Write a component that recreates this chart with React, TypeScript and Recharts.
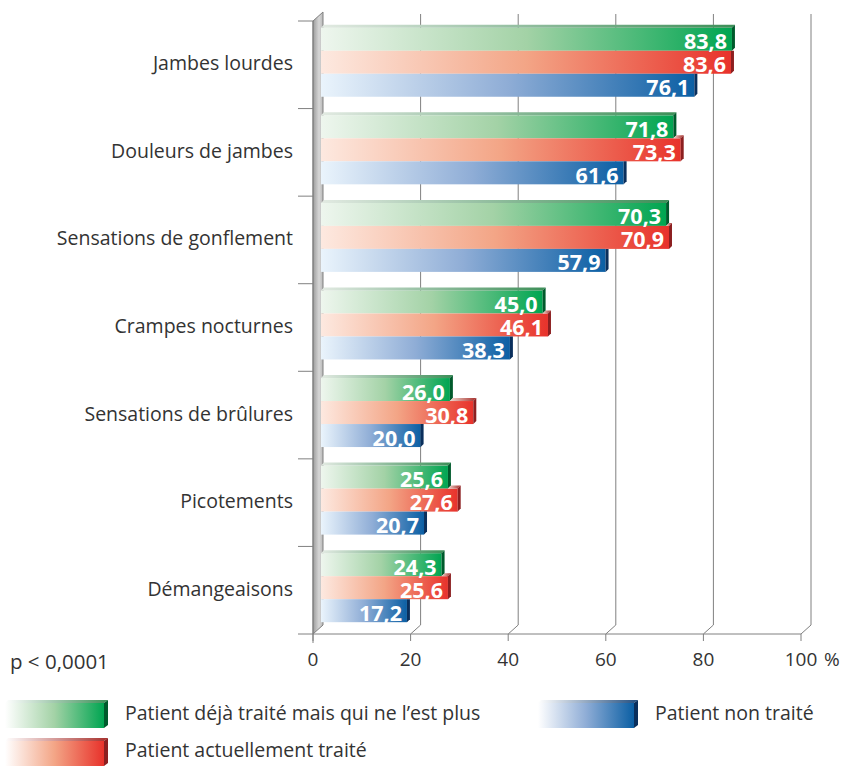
import React from 'react';
import { BarChart, Bar, XAxis, YAxis, CartesianGrid, LabelList } from 'recharts';

// categories and series (values in %)
const categories = [
  'Jambes lourdes',
  'Douleurs de jambes',
  'Sensations de gonflement',
  'Crampes nocturnes',
  'Sensations de brûlures',
  'Picotements',
  'Démangeaisons',
];
const dejaTraite = [83.8, 71.8, 70.3, 45.0, 26.0, 25.6, 24.3];
const actuellementTraite = [83.6, 73.3, 70.9, 46.1, 30.8, 27.6, 25.6];
const nonTraite = [76.1, 61.6, 57.9, 38.3, 20.0, 20.7, 17.2];
const xTicks = [0, 20, 40, 60, 80, 100];

const data = categories.map((name, i) => ({
  name,
  deja: dejaTraite[i],
  actuel: actuellementTraite[i],
  non: nonTraite[i],
}));

const FONT = '"Open Sans", sans-serif';
const TEXT = '#333';
const LINE = '#808080';
const DX = 10; // depth of the back wall
const DY = 9;
const D = 3; // depth of a bar
const BAND = 613 / 7;

const SERIES = [
  { key: 'deja', above: null, light: '#eef6ee', mid: '#a3d2a6', dark: '#00a551', side: '#005a2c', topL: '#e2eae2', topR: '#3d8f58' },
  { key: 'actuel', above: 'deja', light: '#fde9e0', mid: '#f3a586', dark: '#e8322b', side: '#8c1f20', topL: '#efd8d0', topR: '#a8302c' },
  { key: 'non', above: 'actuel', light: '#eaf4fc', mid: '#8fadd6', dark: '#0b5fa4', side: '#0a2f5c', topL: '#d8e3ee', topR: '#244f80' },
];

const fmt = (v: number) => v.toFixed(1).replace('.', ',');

const Bar3D = (props: any) => {
  const { x, y, width, height, payload, s } = props;
  const v = payload[s.key];
  const scale = width / v;
  const left = x + 8;
  const right = x + width + DX;
  const ty = y - 2;
  const h = height;
  const aboveEnd = s.above ? x + DX + payload[s.above] * scale : null;
  let topFace = null;
  if (aboveEnd === null) {
    topFace = `${left},${ty} ${left + D},${ty - D} ${right + D},${ty - D} ${right},${ty}`;
  } else if (aboveEnd < right) {
    const sx = Math.max(left, aboveEnd);
    topFace = `${sx},${ty} ${sx + D},${ty - D} ${right + D},${ty - D} ${right},${ty}`;
  }
  const sideFace =
    aboveEnd !== null && aboveEnd >= right
      ? `${right},${ty} ${right + D},${ty} ${right + D},${ty + h - D} ${right},${ty + h}`
      : `${right},${ty} ${right + D},${ty - D} ${right + D},${ty + h - D} ${right},${ty + h}`;
  return (
    <g>
      <rect x={left} y={ty} width={right - left} height={h} fill={`url(#g-${s.key})`} />
      {topFace && <polygon points={topFace} fill={`url(#t-${s.key})`} />}
      <polygon points={sideFace} fill={s.side} />
    </g>
  );
};

const ValueLabel = (props: any) => {
  const { x, y, width, height, value } = props;
  return (
    <text
      x={x + width + DX - 5}
      y={y - 2 + height / 2 + 1}
      textAnchor="end"
      dominantBaseline="central"
      fill="#fff"
      fontWeight="bold"
      fontSize={22}
      fontFamily={FONT}
      textLength={43}
      lengthAdjust="spacingAndGlyphs"
    >
      {fmt(value)}
    </text>
  );
};

const CategoryTick = (props: any) => {
  const { x, y, payload, index } = props;
  const axisX = x + 20;
  return (
    <g>
      <text x={x} y={y - 2} textAnchor="end" dominantBaseline="central" fontSize={19.5} fill={TEXT} fontFamily={FONT}>
        {payload.value}
      </text>
      <line x1={axisX - 15} x2={axisX} y1={y - BAND / 2} y2={y - BAND / 2} stroke={LINE} />
      {index === categories.length - 1 && (
        <>
          <line x1={axisX - 15} x2={axisX} y1={y + BAND / 2} y2={y + BAND / 2} stroke={LINE} />
          <line x1={axisX} x2={axisX} y1={y + BAND / 2} y2={y + BAND / 2 + 9} stroke={LINE} />
        </>
      )}
    </g>
  );
};

const PercentTick = (props: any) => {
  const { x, y, payload } = props;
  return (
    <g>
      <text x={x} y={y} dy="0.71em" textAnchor="middle" fontSize={19} fill={TEXT} fontFamily={FONT}>
        {payload.value}
      </text>
      {payload.value === 100 && (
        <text x={x + 23} y={y} dy="0.71em" textAnchor="start" fontSize={19} fill={TEXT} fontFamily={FONT}>
          %
        </text>
      )}
    </g>
  );
};

const BackGridLine = (props: any) => {
  const { x1, y1, y2, index } = props;
  if (index === 0) {
    return (
      <g key={`wall-${index}`}>
        <polygon
          points={`${x1},${y1} ${x1 + DX},${y1 - DY} ${x1 + DX},${y2 - DY} ${x1},${y2}`}
          fill="url(#wall)"
          stroke={LINE}
        />
      </g>
    );
  }
  return (
    <path
      key={`grid-${index}`}
      d={`M${x1 + DX},${y1 - DY + 2} L${x1 + DX},${y2 - DY} L${x1},${y2}`}
      stroke={LINE}
      fill="none"
    />
  );
};

const Swatch = ({ s, w }: { s: any; w: number }) => (
  <svg width={w} height={28}>
    <defs>
      <linearGradient id={`lg-${s.key}`} x1="0" y1="0" x2="1" y2="0">
        <stop offset="0%" stopColor="#fff" />
        <stop offset="50%" stopColor={s.mid} />
        <stop offset="100%" stopColor={s.dark} />
      </linearGradient>
      <linearGradient id={`lt-${s.key}`} x1="0" y1="0" x2="1" y2="0">
        <stop offset="0%" stopColor="#fff" />
        <stop offset="100%" stopColor={s.topR} />
      </linearGradient>
    </defs>
    <rect x={0} y={3} width={w - 4} height={25} fill={`url(#lg-${s.key})`} />
    <polygon points={`0,3 3,0 ${w},0 ${w - 4},3`} fill={`url(#lt-${s.key})`} />
    <polygon points={`${w - 4},3 ${w},0 ${w},25 ${w - 4},28`} fill={s.side} />
  </svg>
);

const legendText: React.CSSProperties = {
  position: 'absolute',
  fontFamily: FONT,
  fontSize: 19.5,
  color: TEXT,
  lineHeight: '20px',
  whiteSpace: 'nowrap',
};

export default function App() {
  return (
    <div style={{ position: 'relative', width: 846, height: 766, background: '#fff', overflow: 'hidden' }}>
      <style>{'body{margin:0}'}</style>
      <BarChart
        width={846}
        height={766}
        data={data}
        layout="vertical"
        margin={{ top: 21, right: 45, left: 0, bottom: 92 }}
        barCategoryGap="10%"
        barGap={0}
      >
        <defs>
          {SERIES.map((s) => (
            <React.Fragment key={s.key}>
              <linearGradient id={`g-${s.key}`} x1="0" y1="0" x2="1" y2="0">
                <stop offset="0%" stopColor={s.light} />
                <stop offset="50%" stopColor={s.mid} />
                <stop offset="100%" stopColor={s.dark} />
              </linearGradient>
              <linearGradient id={`t-${s.key}`} x1="0" y1="0" x2="1" y2="0">
                <stop offset="0%" stopColor={s.topL} />
                <stop offset="100%" stopColor={s.topR} />
              </linearGradient>
            </React.Fragment>
          ))}
          <linearGradient id="wall" x1="0" y1="0" x2="1" y2="0">
            <stop offset="0%" stopColor="#9c9c9c" />
            <stop offset="60%" stopColor="#d6d6d6" />
            <stop offset="100%" stopColor="#b8b8b8" />
          </linearGradient>
        </defs>
        <CartesianGrid horizontal={false} vertical={BackGridLine} />
        <XAxis
          type="number"
          domain={[0, 100]}
          ticks={xTicks}
          height={40}
          tickSize={7}
          tickMargin={12}
          axisLine={{ stroke: LINE }}
          tickLine={{ stroke: LINE }}
          tick={<PercentTick />}
        />
        <YAxis
          type="category"
          dataKey="name"
          width={313}
          tickLine={false}
          tickSize={0}
          tickMargin={20}
          axisLine={{ stroke: LINE }}
          tick={<CategoryTick />}
          interval={0}
        />
        {SERIES.map((s) => (
          <Bar
            key={s.key}
            dataKey={s.key}
            isAnimationActive={false}
            shape={(p: any) => <Bar3D {...p} s={s} />}
          >
            <LabelList dataKey={s.key} content={<ValueLabel />} />
          </Bar>
        ))}
      </BarChart>

      <div style={{ ...legendText, left: 10, top: 651, fontSize: 20.5 }}>p &lt; 0,0001</div>

      <div style={{ position: 'absolute', left: 5, top: 700 }}>
        <Swatch s={SERIES[0]} w={103} />
      </div>
      <div style={{ ...legendText, left: 125, top: 703 }}>Patient déjà traité mais qui ne l’est plus</div>
      <div style={{ position: 'absolute', left: 538, top: 700 }}>
        <Swatch s={SERIES[2]} w={100} />
      </div>
      <div style={{ ...legendText, left: 655, top: 703 }}>Patient non traité</div>
      <div style={{ position: 'absolute', left: 5, top: 738 }}>
        <Swatch s={SERIES[1]} w={103} />
      </div>
      <div style={{ ...legendText, left: 125, top: 740 }}>Patient actuellement traité</div>
    </div>
  );
}
